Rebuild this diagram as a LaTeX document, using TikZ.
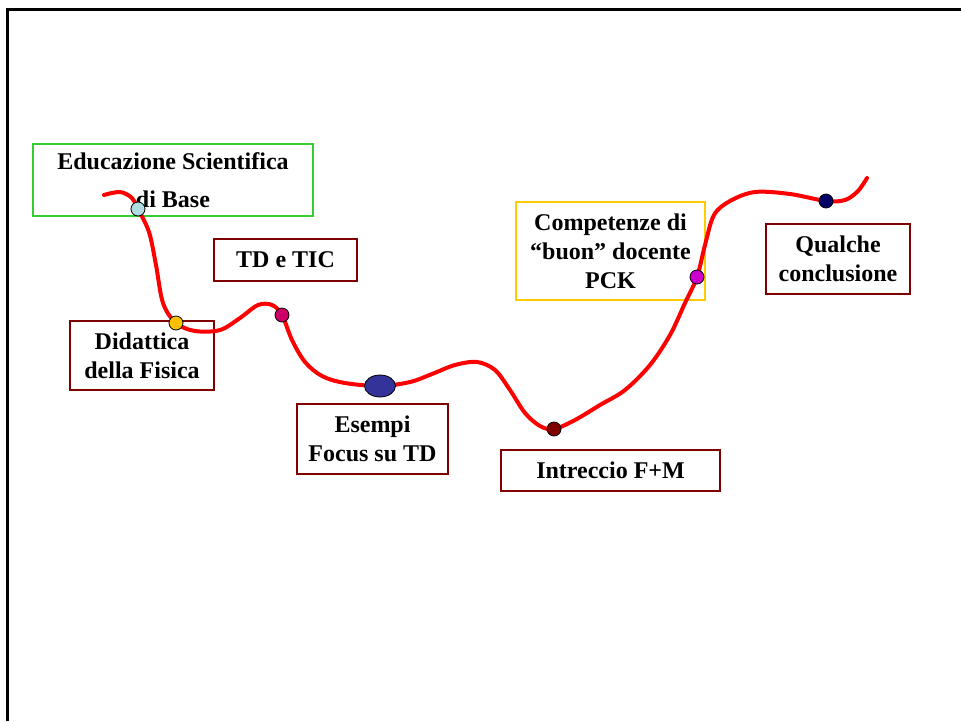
\documentclass[tikz,border=0pt]{standalone}
\usepackage{fontspec}
\setmainfont{Liberation Serif}
\usetikzlibrary{shapes.geometric}
\begin{document}
\begin{tikzpicture}[x=1pt,y=-1pt,
  lbl/.style={font=\bfseries\fontsize{24}{29}\selectfont, align=center, inner sep=0pt, line width=2pt, text=black},
  redbox/.style={lbl, draw={rgb,255:red,128;green,0;blue,0}},
  greenbox/.style={lbl, draw={rgb,255:red,51;green,204;blue,51}},
  yellowbox/.style={lbl, draw={rgb,255:red,255;green,204;blue,0}},
  route/.style={line width=4pt, draw={rgb,255:red,255;green,0;blue,0}, line cap=round, line join=round},
  dot/.style={circle, draw=black, line width=0.8pt, minimum size=14pt, inner sep=0pt}
]
\useasboundingbox (0,0) rectangle (961,721);
\fill[white] (0,0) rectangle (961,721);

% page frame
\draw[line width=3pt] (7,721) -- (7,9.5) -- (961,9.5);

% stage boxes
\node[greenbox, minimum width=280pt, minimum height=72pt] (edu) at (173,180)
  {Educazione Scientifica\\[9pt]di Base};
\node[redbox, minimum width=143pt, minimum height=42pt] (tdtic) at (285.5,260) {TD e TIC};
\node[redbox, minimum width=144pt, minimum height=69pt] (did) at (142,355.5) {Didattica\\della Fisica};
\node[redbox, minimum width=151pt, minimum height=70pt] (esempi) at (372.5,439) {Esempi\\Focus su TD};
\node[redbox, minimum width=219pt, minimum height=41pt] (intr) at (610.5,470.5) {Intreccio F+M};
\node[yellowbox, minimum width=189pt, minimum height=98pt] (comp) at (610.5,251) {Competenze di\\``buon'' docente\\PCK};
\node[redbox, minimum width=144pt, minimum height=70pt] (concl) at (838,259) {Qualche\\conclusione};

% winding route
\draw[route] plot[smooth, tension=0.55] coordinates {
  (104,195) (120,192) (132,198) (138,209) (149,232) (156,265) (163,303) (176,323)
  (195,331) (220,330) (240,318) (258,305) (272,305) (282,315) (292,340) (305,362)
  (322,376) (345,383) (380,386) (410,382) (432,374) (455,365) (477,362) (495,370)
  (510,390) (525,413) (540,426) (554,429) (575,420) (600,405) (625,390) (650,365)
  (670,335) (685,303) (697,277) (705,245) (714,215) (730,201) (755,192) (790,194)
  (826,201) (845,200) (858,191) (867,178)};

% stops along the route
\node[dot, fill={rgb,255:red,176;green,222;blue,224}] (s1) at (138,209) {};
\node[dot, fill={rgb,255:red,255;green,192;blue,0}] (s2) at (176,323) {};
\node[dot, fill={rgb,255:red,204;green,0;blue,102}] (s3) at (282,315) {};
\node[ellipse, draw=black, line width=0.8pt, minimum width=31pt, minimum height=22pt, inner sep=0pt,
  fill={rgb,255:red,51;green,51;blue,153}] (s4) at (380,386) {};
\node[dot, fill={rgb,255:red,128;green,0;blue,0}] (s5) at (554,429) {};
\node[dot, fill={rgb,255:red,204;green,0;blue,204}] (s6) at (697,277) {};
\node[dot, fill={rgb,255:red,0;green,0;blue,102}] (s7) at (826,201) {};
\end{tikzpicture}
\end{document}
